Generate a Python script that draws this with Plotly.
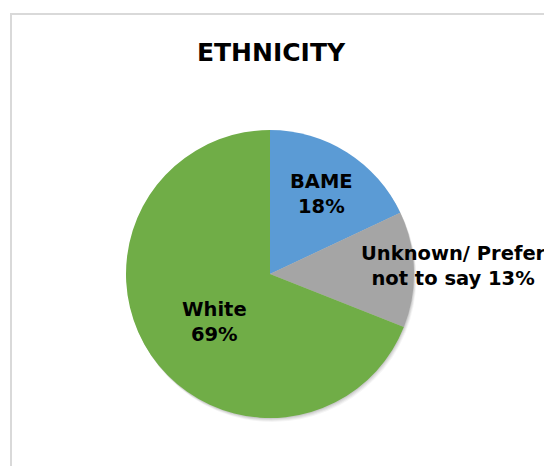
import plotly.graph_objects as go

# Ethnicity breakdown (percent of respondents)
categories = ["BAME", "Unknown/ Prefer not to say", "White"]
display_labels = ["BAME<br>", "Unknown/ Prefer<br>not to say ", "White<br>"]
values = [18, 13, 69]
colors = ["#5B9BD5", "#A5A5A5", "#70AD47"]

W, H = 544, 466
FONT = "DejaVu Sans"

# pie geometry in pixels (centre and radius)
cx, cy, r = 270, 274, 144


def px_x(x):
    return x / W


def px_y(y):
    return 1 - y / H


fig = go.Figure()

# soft drop shadow: a few faint offset discs beneath the pie
for off, op in [(4, 0.04), (3, 0.05), (2, 0.06), (1, 0.07)]:
    fig.add_trace(go.Pie(
        values=[1],
        marker=dict(colors=["rgba(0,0,0,%s)" % op], line=dict(width=0)),
        textinfo="none", hoverinfo="skip", showlegend=False, sort=False,
        domain=dict(x=[px_x(cx - r + off * 0.6), px_x(cx + r + off * 0.6)],
                    y=[px_y(cy + r + off), px_y(cy - r + off)]),
    ))

fig.add_trace(go.Pie(
    labels=categories,
    values=values,
    sort=False,
    direction="clockwise",
    rotation=0,
    marker=dict(colors=colors, line=dict(width=0)),
    textinfo="none",
    showlegend=False,
    domain=dict(x=[px_x(cx - r), px_x(cx + r)],
                y=[px_y(cy + r), px_y(cy - r)]),
))

# data labels (centre positions in pixels)
label_pos = [(321, 194), (453, 266), (214, 322)]
total = sum(values)
annotations = []
for name, v, (lx, ly) in zip(display_labels, values, label_pos):
    pct = round(100 * v / total)
    annotations.append(dict(
        text="<b>%s%d%%</b>" % (name, pct),
        x=px_x(lx), y=px_y(ly), xref="paper", yref="paper",
        xanchor="center", yanchor="middle", showarrow=False,
        align="center",
        font=dict(family=FONT, size=19.5, color="#000000"),
    ))

fig.update_layout(
    width=W, height=H,
    margin=dict(l=0, r=0, t=0, b=0),
    paper_bgcolor="white",
    plot_bgcolor="white",
    title=dict(
        text="<b>ETHNICITY</b>",
        x=px_x(271), xanchor="center",
        y=px_y(52), yanchor="middle",
        font=dict(family=FONT, size=25, color="#000000"),
    ),
    annotations=annotations,
    shapes=[dict(
        type="rect", xref="paper", yref="paper",
        x0=px_x(11), x1=1.2, y0=-0.2, y1=px_y(14),
        line=dict(color="#D9D9D9", width=2),
        fillcolor="rgba(0,0,0,0)", layer="below",
    )],
)

fig.write_html("out.html")
